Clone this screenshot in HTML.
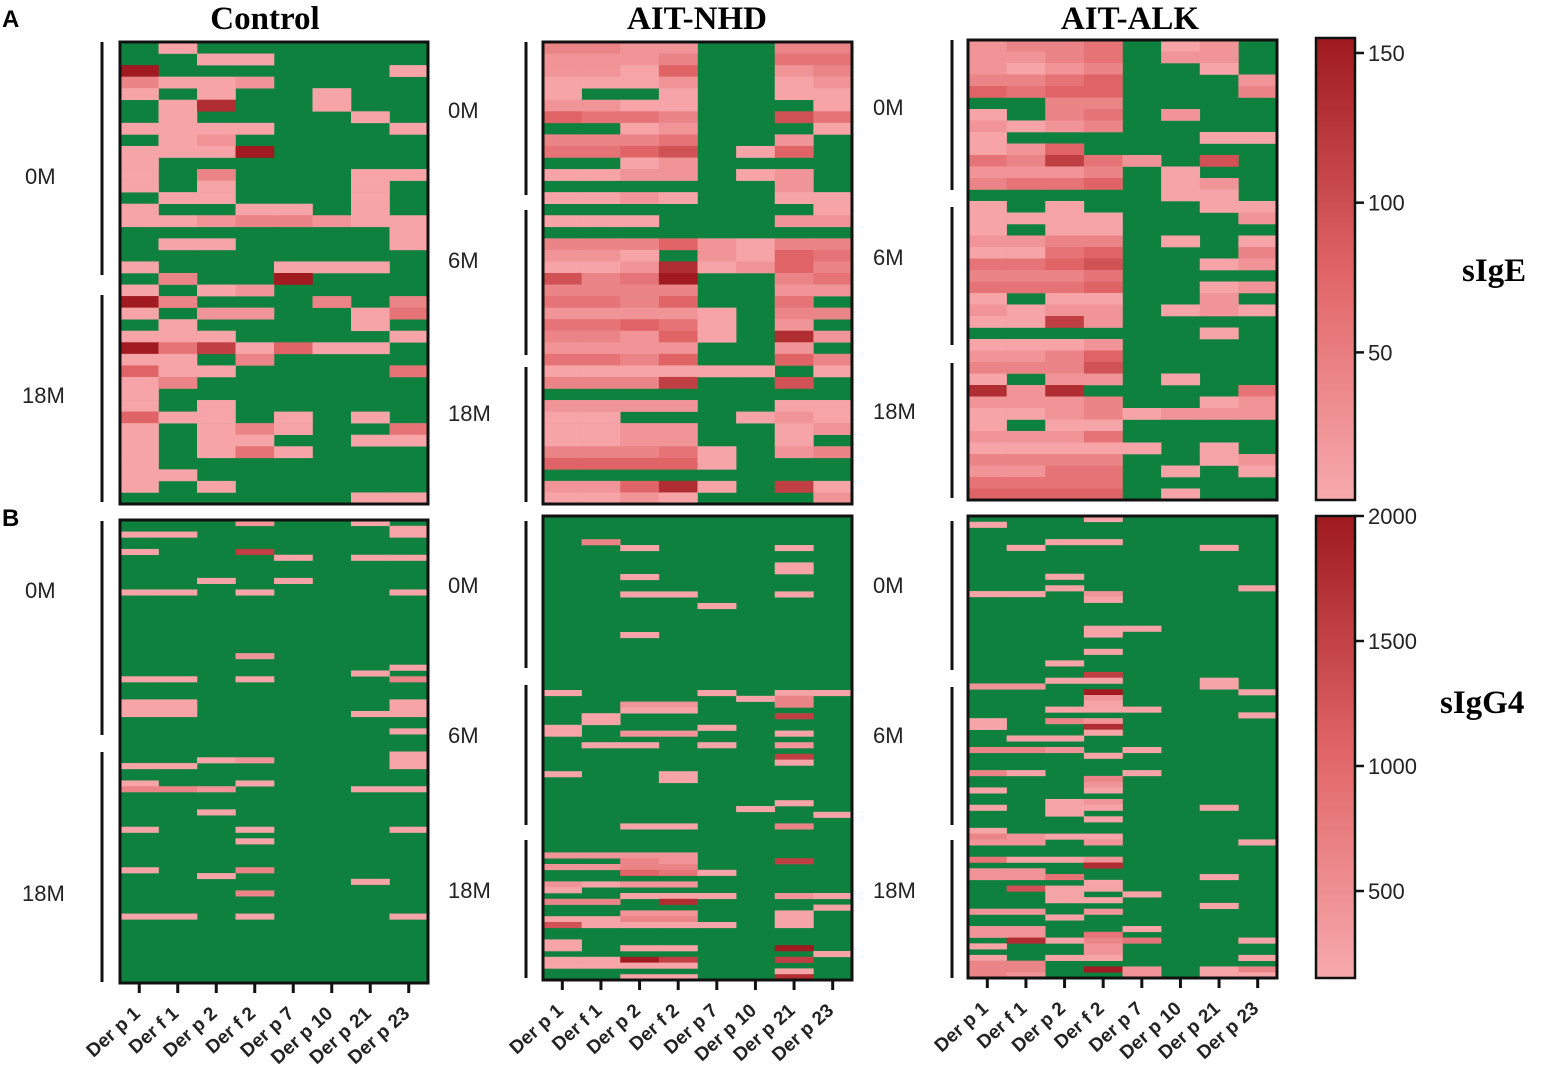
<!DOCTYPE html>
<html><head><meta charset="utf-8">
<style>
html,body{margin:0;padding:0;background:#fff;}
svg{display:block;font-family:"Liberation Sans",sans-serif;}
.ttl{font-family:"Liberation Serif",serif;font-weight:bold;font-size:33px;}
.grp{font-size:22px;fill:#222;}
.xl{font-size:19px;font-weight:bold;fill:#222;}
.cb{font-size:22px;fill:#222;}
</style></head>
<body>
<svg id="chart" width="1559" height="1079" viewBox="0 0 1559 1079">
<defs>
<linearGradient id="gradA" x1="0" y1="1" x2="0" y2="0"><stop offset="0" stop-color="#f7aaad"/><stop offset="0.5" stop-color="#e06466"/><stop offset="1" stop-color="#9e1a1f"/></linearGradient>
</defs>
<g id="root"></g>
</svg>
<script>
const allergens = ["Der p 1","Der f 1","Der p 2","Der f 2","Der p 7","Der p 10","Der p 21","Der p 23"];
const groups = ["Control","AIT-NHD","AIT-ALK"];
// sIgE rows: digits 0 (negative, green) .. 9 (max)
const sIgEControl = ["01000000","00110000","90000001","31120000","10100100","01800100","01000010","11110001","01200000","11190000","10000000","10300011","10100010","01100010","10011010","11233211","00000001","01100001","00000000","10001110","03009000","10120000","93000303","10220014","01000010","11100001","94715110","11030000","51100004","13000000","10000000","10100000","51101010","10131004","10110011","10141000","10000000","11000000","10100000","00000011"];
const sIgENHD = ["33220033","22230044","22150023","11120012","10010011","22110001","54430064","00120001","33340020","44560150","00120000","11220120","00000020","11210011","00000001","11100022","00000000","33352133","22102154","11281253","63490034","33330022","44350040","22221033","44541020","33251082","22220020","44350053","11111101","33370060","00000000","22220011","11000121","11220012","11220010","33341023","55551000","00000000","22581071","11210002"];
const sIgEALK = ["23340120","22340220","21230010","33450002","54550003","00330000","10340200","21230000","10000011","12500000","43742060","22230100","34450120","00000110","10100011","11110002","10110000","22330101","11450003","44560012","33340000","44450012","10110020","21220121","11720000","00000010","11120000","22350000","33360000","10220100","82800004","22230012","11231222","10110000","22240000","11111010","33330012","22440101","44440000","55550100"];
// sIgG4 sparse cells: [row (of 80), column index, level]
const sIgG4Control = [[0,3,2],[0,6,1],[1,7,1],[2,0,1],[2,1,1],[2,7,1],[5,0,1],[5,3,7],[6,4,1],[6,6,1],[6,7,1],[10,2,1],[10,4,1],[12,0,1],[12,1,1],[12,3,1],[12,7,1],[23,3,2],[25,7,1],[26,6,1],[27,0,1],[27,1,1],[27,3,1],[27,7,3],[31,0,1],[32,0,1],[33,0,1],[31,1,1],[32,1,1],[33,1,1],[31,7,1],[32,7,1],[33,7,1],[33,6,1],[36,7,1],[41,2,1],[41,3,2],[40,7,1],[41,7,1],[42,7,1],[42,0,1],[42,1,1],[45,0,1],[45,3,1],[46,0,3],[46,1,3],[46,2,2],[46,6,1],[46,7,1],[50,2,1],[53,0,1],[53,3,1],[53,7,1],[55,3,1],[60,0,1],[60,3,3],[61,2,1],[62,6,1],[64,3,3],[68,0,1],[68,1,1],[68,3,1],[68,7,1]];
const sIgG4NHD = [[4,1,3],[5,2,1],[5,6,1],[8,6,1],[9,6,1],[10,2,1],[13,2,1],[13,3,1],[13,6,1],[15,4,1],[20,2,1],[30,0,1],[30,4,1],[30,6,1],[30,7,1],[31,5,1],[31,6,3],[32,6,3],[32,2,2],[32,3,2],[33,2,1],[33,3,1],[34,6,7],[34,1,1],[35,1,1],[36,0,1],[37,0,1],[37,2,2],[37,3,2],[36,4,1],[37,6,1],[39,2,1],[39,4,1],[39,6,2],[39,1,1],[41,6,7],[42,6,1],[44,0,1],[44,3,1],[45,3,1],[49,6,1],[50,5,1],[51,7,1],[53,2,1],[53,3,1],[53,6,3],[58,0,2],[58,1,2],[58,2,2],[58,3,2],[59,6,7],[59,2,3],[59,3,2],[60,0,2],[60,1,2],[60,2,3],[60,3,3],[61,2,5],[61,3,4],[61,4,1],[63,0,2],[63,1,1],[63,2,2],[63,3,2],[64,0,1],[65,2,1],[65,3,1],[65,4,1],[65,6,2],[65,7,1],[66,0,3],[66,1,3],[66,3,8],[67,7,1],[68,2,2],[68,3,2],[69,0,1],[69,1,1],[69,2,3],[69,3,3],[68,6,1],[69,6,1],[70,6,1],[70,0,6],[70,1,1],[70,2,1],[70,3,1],[70,4,1],[73,0,1],[74,0,1],[74,2,1],[74,3,1],[74,6,9],[75,7,1],[76,0,1],[76,1,1],[76,2,9],[76,3,7],[76,6,7],[77,0,1],[77,1,1],[77,2,1],[77,3,1],[78,6,1],[79,2,1],[79,3,1],[79,6,8]];
const sIgG4ALK = [[0,3,1],[1,0,1],[4,2,1],[4,3,1],[5,1,1],[5,6,1],[10,2,1],[12,2,1],[12,7,1],[13,0,1],[13,1,1],[13,3,2],[14,3,1],[19,3,1],[20,3,1],[19,4,1],[23,3,1],[25,2,1],[27,3,7],[28,2,1],[28,3,1],[28,6,1],[29,6,1],[29,0,2],[29,1,2],[30,3,9],[30,7,1],[31,3,2],[32,3,1],[33,2,1],[33,3,1],[33,4,1],[34,7,1],[35,0,1],[36,0,1],[35,2,3],[35,3,2],[36,3,8],[37,3,1],[38,1,1],[38,2,1],[40,0,3],[40,1,3],[40,2,2],[40,4,1],[41,3,1],[44,0,3],[44,1,1],[44,4,1],[45,3,3],[46,3,2],[47,3,1],[47,0,1],[49,2,1],[50,2,1],[51,2,1],[49,3,2],[50,3,1],[50,0,1],[50,6,1],[52,3,1],[54,0,1],[55,0,3],[55,1,2],[55,2,1],[55,3,1],[56,0,2],[56,1,2],[56,3,2],[56,7,1],[59,0,4],[59,1,1],[59,2,1],[59,3,2],[60,3,8],[61,0,2],[61,1,2],[62,0,2],[62,1,2],[62,2,4],[62,6,1],[63,3,1],[64,3,1],[64,1,6],[64,2,1],[65,2,1],[66,2,1],[66,3,1],[65,4,1],[67,6,1],[68,0,2],[68,1,2],[68,3,2],[69,2,1],[71,0,2],[71,1,2],[72,0,2],[72,1,2],[71,4,1],[72,3,4],[73,3,3],[74,3,2],[75,3,2],[76,3,1],[73,2,1],[74,0,1],[73,1,8],[73,4,4],[73,7,1],[76,0,1],[76,2,1],[76,7,1],[77,0,3],[77,1,3],[78,0,3],[78,1,3],[79,0,3],[79,1,2],[78,3,9],[78,4,2],[79,4,2],[78,6,1],[79,6,1],[78,7,3],[79,7,1]];
const ticksIgE = [150,100,50];
const ticksIgG4 = [2000,1500,1000,500];

const NS="http://www.w3.org/2000/svg";
const root=document.getElementById('root');
function mk(tag,attrs,parent){const e=document.createElementNS(NS,tag);for(const k in attrs)e.setAttribute(k,attrs[k]);(parent||root).appendChild(e);return e;}
const GREEN="#0e813e";
function lvlColor(v){
  const t=(v-1)/8;
  const a=[246,164,167], b=[224,100,102], c=[160,26,31];
  let col;
  if(t<0.5){const u=t/0.5;col=a.map((x,i)=>Math.round(x+(b[i]-x)*u));}
  else{const u=(t-0.5)/0.5;col=b.map((x,i)=>Math.round(x+(c[i]-x)*u));}
  return "rgb("+col.join(",")+")";
}
const panelsA=[{x:120,y:42,w:308,h:462,d:sIgEControl,n:"control"},{x:543,y:42,w:309,h:462,d:sIgENHD,n:"ait-nhd"},{x:968,y:40,w:309,h:460,d:sIgEALK,n:"ait-alk"}];
const panelsB=[{x:120,y:520,w:308,h:463,d:sIgG4Control,n:"control"},{x:543,y:516,w:309,h:464,d:sIgG4NHD,n:"ait-nhd"},{x:968,y:516,w:309,h:462,d:sIgG4ALK,n:"ait-alk"}];

panelsA.forEach(p=>{
  const g=mk('g',{});
  
  
  mk('rect',{x:p.x,y:p.y,width:p.w,height:p.h,fill:GREEN},g);
  const rh=p.h/p.d.length, cw=p.w/allergens.length;
  p.d.forEach((row,r)=>{
    for(let c=0;c<allergens.length;c++){
      const v=+row[c]; if(!v) continue;
      const cell=mk('rect',{x:p.x+c*cw,y:p.y+r*rh,width:cw+0.3,height:rh+0.3,fill:lvlColor(v)},g);
      
      
    }
  });
  mk('rect',{x:p.x,y:p.y,width:p.w,height:p.h,fill:'none',stroke:'#111','stroke-width':3},g);
});
panelsB.forEach(p=>{
  const g=mk('g',{});
  
  
  mk('rect',{x:p.x,y:p.y,width:p.w,height:p.h,fill:GREEN},g);
  const rh=p.h/80, cw=p.w/allergens.length;
  p.d.forEach(([r,c,v])=>{
    const cell=mk('rect',{x:p.x+c*cw,y:p.y+r*rh,width:cw+0.3,height:rh+0.3,fill:lvlColor(v)},g);
    
    
  });
  mk('rect',{x:p.x,y:p.y,width:p.w,height:p.h,fill:'none',stroke:'#111','stroke-width':3},g);
  allergens.forEach((a,i)=>{
    const cx=p.x+(i+0.5)*cw;
    mk('line',{x1:cx,y1:p.y+p.h,x2:cx,y2:p.y+p.h+10,stroke:'#111','stroke-width':3});
    const ax=cx+2, ay=p.y+p.h+32;
    const t=mk('text',{x:ax,y:ay,class:'xl','text-anchor':'end',transform:`rotate(-42 ${ax} ${ay})`});
    t.textContent=a;
    
    
  });
});
[[265,"Control"],[697,"AIT-NHD"],[1130,"AIT-ALK"]].forEach(([x,s])=>{
  const t=mk('text',{x:x,y:29,class:'ttl','text-anchor':'middle'});t.textContent=s;
  
  
});
const pa=mk('text',{x:2,y:27,'font-size':24,'font-weight':'bold'});pa.textContent="A";


const pb=mk('text',{x:2,y:526,'font-size':24,'font-weight':'bold'});pb.textContent="B";


const brackets=[
 [102,[[42,275],[295,502]],[[25,184,"0M"],[22,403,"18M"]]],
 [526,[[42,195],[210,355],[367,502]],[[448,118,"0M"],[448,268,"6M"],[448,421,"18M"]]],
 [952,[[40,190],[207,345],[363,498]],[[873,115,"0M"],[873,265,"6M"],[873,419,"18M"]]],
 [102,[[521,735],[752,982]],[[25,598,"0M"],[22,901,"18M"]]],
 [526,[[521,668],[685,825],[840,978]],[[448,593,"0M"],[448,743,"6M"],[448,898,"18M"]]],
 [952,[[521,670],[687,825],[840,978]],[[873,593,"0M"],[873,743,"6M"],[873,898,"18M"]]]
];
brackets.forEach(([x,segs,labs])=>{
  segs.forEach(([a,b])=>{const l=mk('line',{x1:x,y1:a,x2:x,y2:b,stroke:'#111','stroke-width':3});
    
    });
  labs.forEach(([lx,ly,s])=>{const t=mk('text',{x:lx,y:ly,class:'grp'});t.textContent=s;
    
    });
});
function colorbar(y0,h,ticks,vmin,vmax,name,title,ty,tx){
  const g=mk('g',{});
  
  
  mk('rect',{x:1316,y:y0,width:39,height:h,fill:'url(#gradA)',stroke:'#111','stroke-width':2.5},g);
  ticks.forEach(v=>{
    const y=y0+h-(v-vmin)/(vmax-vmin)*h;
    mk('line',{x1:1355,y1:y,x2:1364,y2:y,stroke:'#111','stroke-width':2.5},g);
    const t=mk('text',{x:1368,y:y+8,class:'cb'},g);t.textContent=v;
    
    
  });
  const t=mk('text',{x:tx,y:ty,class:'ttl','font-size':30});t.textContent=title;
  
  
}
colorbar(38,462,ticksIgE,0.7,155,'sige-colorbar','sIgE',281,1462);
colorbar(516,462,ticksIgG4,152,2000,'sigg4-colorbar','sIgG4',713,1440);
</script>
</body></html>
